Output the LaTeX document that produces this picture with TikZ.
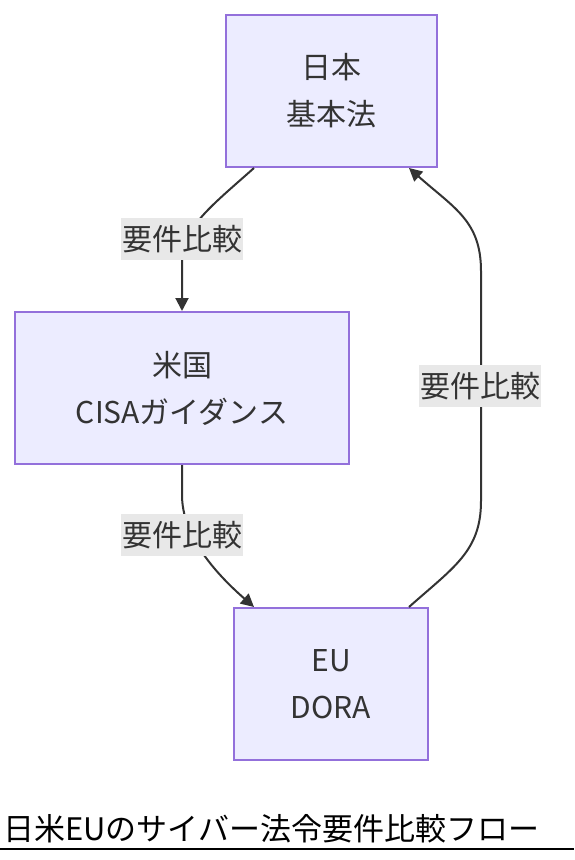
\documentclass[tikz,border=0pt]{standalone}
\usepackage{fontspec}
\newfontfamily\cjk{Noto Sans CJK JP}
\usetikzlibrary{arrows.meta,calc}
\definecolor{nodefill}{HTML}{ECECFF}
\definecolor{nodeline}{HTML}{9370DB}
\definecolor{ink}{HTML}{333333}
\definecolor{lblbg}{HTML}{E8E8E8}
\tikzset{
  box/.style={draw=nodeline, fill=nodefill, line width=2pt, minimum height=152pt, align=center, text=ink, inner sep=0pt, font=\cjk\fontsize{30}{47}\selectfont},
  lbl/.style={fill=lblbg, text=ink, inner xsep=1pt, minimum height=42pt, font=\cjk\fontsize{30}{32}\selectfont},
  edge/.style={draw=ink, line width=2pt, -{Triangle[length=13pt,width=13pt]}}
}
\begin{document}
\begin{tikzpicture}[x=1pt,y=-1pt]
\useasboundingbox (0,0) rectangle (574,860);
\node[box, minimum width=211pt] (jp) at (331.5,91) {日本\\基本法};
\node[box, minimum width=334pt] (us) at (182,388) {米国\\CISAガイダンス};
\node[box, minimum width=194pt] (eu) at (331,684) {EU\\DORA};
\draw[edge] ([xshift=29pt]jp.south west) .. controls +(-45,40) and +(0,-35) .. ($(us.north)+(0,-48)$) -- (us.north);
\draw[edge] (us.south) -- ($(us.south)+(0,30)$) .. controls +(0,40) and +(-40,-35) .. ([xshift=21pt]eu.north west);
\draw[edge] ([xshift=-20pt]eu.north east) .. controls +(45,-40) and +(0,50) .. ($(jp.south east)+(43,-167+500)$) -- ($(jp.south east)+(43,-167+270)$) .. controls +(0,-50) and +(45,40) .. ([xshift=-29pt]jp.south east);
\node[lbl] (l1) at (182,239) {要件比較};
\node[lbl] (l2) at (182,535) {要件比較};
\node[lbl] (l3) at (480,386) {要件比較};
\node[anchor=west, inner sep=0pt, font=\cjk\fontsize{31}{33}\selectfont] (title) at (3,829) {日米EUのサイバー法令要件比較フロー};
\draw[line width=2pt] (0,849) -- (574,849);
\end{tikzpicture}
\end{document}
